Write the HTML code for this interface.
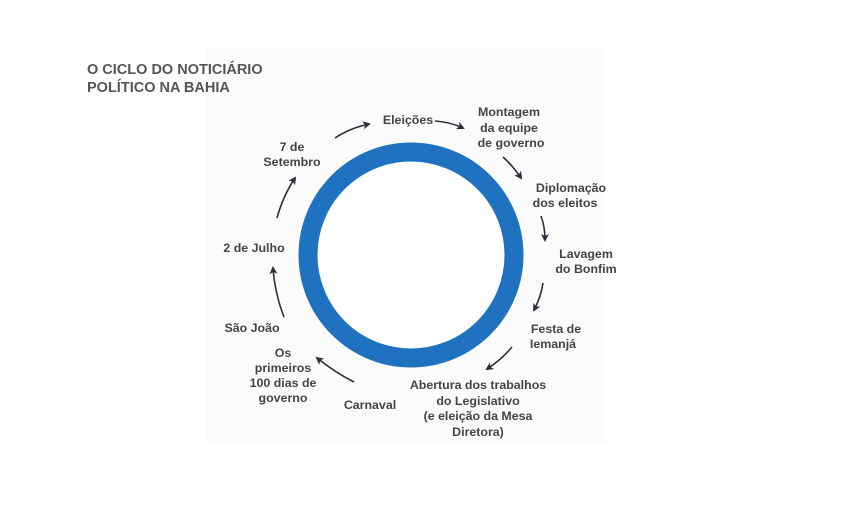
<!DOCTYPE html>
<html><head><meta charset="utf-8"><style>
html,body{margin:0;padding:0;background:#fff;}
svg{display:block}
text{font-family:"Liberation Sans",Arial,sans-serif;font-weight:bold;fill:#444;font-size:12.4px}
.t{fill:#555;font-size:14.5px}
</style></head><body>
<svg width="852" height="505" viewBox="0 0 852 505" xmlns="http://www.w3.org/2000/svg">
<defs><marker id="a" markerWidth="8" markerHeight="8" refX="6" refY="4" orient="auto" markerUnits="userSpaceOnUse"><path d="M0,0 L8,4 L0,8 L2,4 Z" fill="#2a2f3a"/></marker></defs>
<rect x="206" y="48" width="399" height="396" fill="#fbfbfc"/>
<text class="t" x="87" y="74">O CICLO DO NOTICIÁRIO</text>
<text class="t" x="87" y="92">POLÍTICO NA BAHIA</text>
<circle cx="411" cy="255" r="103" fill="#fff" stroke="#1f72c0" stroke-width="19"/>
<g fill="none" stroke="#2a2f3a" stroke-width="1.6" marker-end="url(#a)">
<path d="M335,138 Q350,128 369,124"/>
<path d="M435,121 Q450,122 463,128"/>
<path d="M503,157 Q513,166 521,178"/>
<path d="M541,216 Q545,227 545,240"/>
<path d="M543,283 Q541,297 534,310"/>
<path d="M512,347 Q501,360 487,369"/>
<path d="M354,382 Q336,373 317,358"/>
<path d="M284,317 Q275,294 273,268"/>
<path d="M277,218 Q283,196 295,178"/>
</g>
<g text-anchor="middle">
<text x="408" y="124">Eleições</text>
<text x="509" y="116">Montagem</text>
<text x="509" y="132">da equipe</text>
<text x="511" y="147">de governo</text>
<text x="571" y="192">Diplomação</text>
<text x="565" y="207">dos eleitos</text>
<text x="586" y="258">Lavagem</text>
<text x="586" y="273">do Bonfim</text>
<text x="556" y="333">Festa de</text>
<text x="553" y="348">Iemanjá</text>
<text x="478" y="389">Abertura dos trabalhos</text>
<text x="478" y="405">do Legislativo</text>
<text x="478" y="420">(e eleição da Mesa</text>
<text x="478" y="436">Diretora)</text>
<text x="370" y="409">Carnaval</text>
<text x="283" y="357">Os</text>
<text x="283" y="372">primeiros</text>
<text x="283" y="387">100 dias de</text>
<text x="283" y="402">governo</text>
<text x="252" y="332">São João</text>
<text x="254" y="252">2 de Julho</text>
<text x="292" y="151">7 de</text>
<text x="292" y="166">Setembro</text>
</g>
</svg>
</body></html>
